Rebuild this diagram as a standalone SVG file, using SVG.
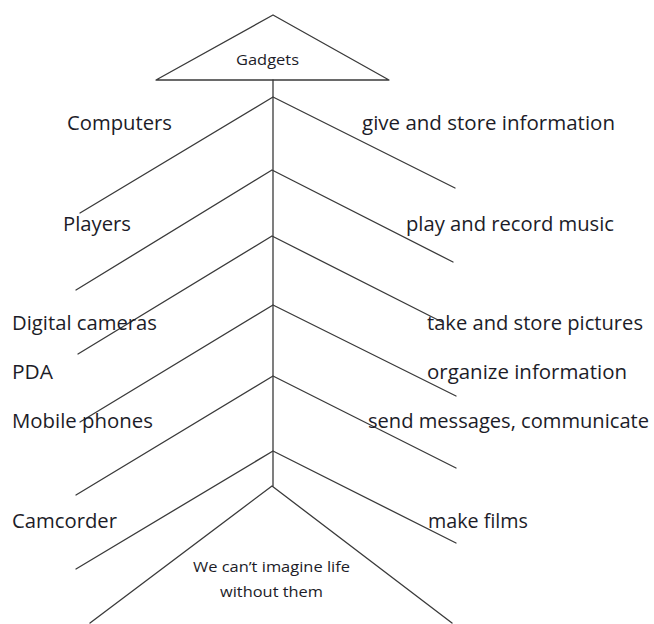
<svg xmlns="http://www.w3.org/2000/svg" width="654" height="624" viewBox="0 0 654 624">
<style>
.ln{fill:none;stroke:#3a3a3a;stroke-width:1.3;stroke-linecap:round;stroke-linejoin:round}
.big{font-family:"Open Sans","Liberation Sans",sans-serif;font-size:20.5px;fill:#1c1c28}
.sm{font-family:"Open Sans","Liberation Sans",sans-serif;font-size:14.5px;fill:#1c1c28}
</style>
<rect width="654" height="624" fill="#ffffff"/>
<g id="connectors">
<line class="ln" x1="273" y1="80" x2="273" y2="486"/>
<polyline class="ln" points="80,213 273,97 455,188"/>
<polyline class="ln" points="76,290 272,170 453,262"/>
<polyline class="ln" points="78,354 272,236 442,322"/>
<polyline class="ln" points="80,422 273,305 456,396"/>
<polyline class="ln" points="76,495 273,376 456,468"/>
<polyline class="ln" points="76,569 273,451 456,543"/>
<polyline class="ln" points="90,623 272,486 452,623"/>
</g>
<g id="gadgets">
<polygon class="ln" points="273,15 389,80 156,80"/>
<text class="sm" x="236" y="65" textLength="63" lengthAdjust="spacingAndGlyphs">Gadgets</text>
</g>
<g id="computers"><text class="big" x="67" y="130" textLength="105" lengthAdjust="spacingAndGlyphs">Computers</text></g>
<g id="give-store"><text class="big" x="362" y="130" textLength="253" lengthAdjust="spacingAndGlyphs">give and store information</text></g>
<g id="players"><text class="big" x="63" y="231" textLength="68" lengthAdjust="spacingAndGlyphs">Players</text></g>
<g id="play-record"><text class="big" x="406" y="231" textLength="208" lengthAdjust="spacingAndGlyphs">play and record music</text></g>
<g id="digital-cameras"><text class="big" x="12" y="330" textLength="145" lengthAdjust="spacingAndGlyphs">Digital cameras</text></g>
<g id="take-store"><text class="big" x="427" y="330" textLength="216" lengthAdjust="spacingAndGlyphs">take and store pictures</text></g>
<g id="pda"><text class="big" x="12" y="379" textLength="41" lengthAdjust="spacingAndGlyphs">PDA</text></g>
<g id="organize"><text class="big" x="427" y="379" textLength="200" lengthAdjust="spacingAndGlyphs">organize information</text></g>
<g id="mobile-phones"><text class="big" x="12" y="428" textLength="141" lengthAdjust="spacingAndGlyphs">Mobile phones</text></g>
<g id="send-messages"><text class="big" x="368" y="428" textLength="281" lengthAdjust="spacingAndGlyphs">send messages, communicate</text></g>
<g id="camcorder"><text class="big" x="12" y="528" textLength="105" lengthAdjust="spacingAndGlyphs">Camcorder</text></g>
<g id="make-films"><text class="big" x="428" y="528" textLength="100" lengthAdjust="spacingAndGlyphs">make films</text></g>
<g id="conclusion">
<text class="sm" x="193" y="572" textLength="157" lengthAdjust="spacingAndGlyphs">We can’t imagine life</text>
<text class="sm" x="220" y="597" textLength="103" lengthAdjust="spacingAndGlyphs">without them</text>
</g>
</svg>
